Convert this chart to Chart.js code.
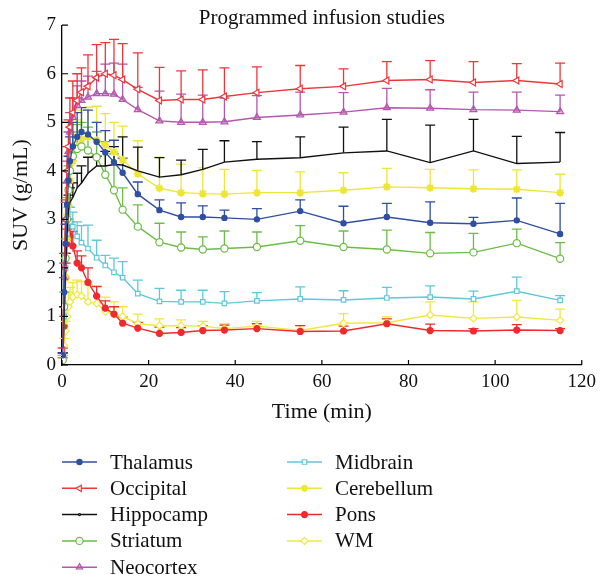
<!DOCTYPE html>
<html>
<head>
<meta charset="utf-8">
<script src="https://cdn.jsdelivr.net/npm/chart.js@4/dist/chart.umd.min.js"></script>
<style>html,body{margin:0;padding:0;background:#fff}</style>
</head>
<body>
<canvas id="myChart" width="602" height="579"></canvas>
<script>
// frame mid times (min)
let times = [0.17, 0.5, 0.83, 1.17, 1.5, 1.83, 2.5, 3.5, 4.5, 6, 8, 10, 12, 14, 17.5, 22.5, 27.5, 32.5, 37.5, 45, 55, 65, 75, 85, 95, 105, 115];

let thalamus = [0.2, 1.5, 2.5, 3.3, 3.8, 4.2, 4.5, 4.7, 4.8, 4.75, 4.6, 4.38, 4.18, 3.96, 3.52, 3.19, 3.05, 3.05, 3.03, 3.0, 3.17, 2.92, 3.05, 2.93, 2.91, 2.98, 2.70];
let thalamusSd = [0.05, 0.3, 0.4, 0.45, 0.5, 0.5, 0.5, 0.5, 0.5, 0.5, 0.4, 0.45, 0.45, 0.3, 0.25, 0.21, 0.29, 0.23, 0.16, 0.22, 0.23, 0.35, 0.28, 0.43, 0.13, 0.46, 0.63];

let occipital = [0.3, 2.0, 3.0, 4.0, 4.5, 4.9, 5.2, 5.45, 5.62, 5.74, 5.92, 6.0, 5.97, 5.88, 5.68, 5.45, 5.47, 5.47, 5.53, 5.61, 5.69, 5.74, 5.86, 5.88, 5.82, 5.86, 5.79];
let occipitalSd = [0.05, 0.3, 0.4, 0.5, 0.55, 0.6, 0.65, 0.55, 0.5, 0.65, 0.68, 0.64, 0.74, 0.74, 0.75, 0.68, 0.59, 0.61, 0.59, 0.53, 0.48, 0.36, 0.39, 0.39, 0.43, 0.35, 0.43];

let hippocamp = [0.2, 1.0, 2.0, 2.7, 3.2, 3.35, 3.45, 3.65, 3.75, 3.95, 4.1, 4.1, 4.13, 4.12, 4.0, 3.87, 3.92, 4.03, 4.18, 4.24, 4.27, 4.37, 4.41, 4.17, 4.41, 4.15, 4.18];
let hippocampSd = [0.05, 0.2, 0.3, 0.3, 0.3, 0.3, 0.3, 0.3, 0.35, 0.33, 0.2, 0.3, 0.37, 0.58, 0.49, 0.4, 0.3, 0.41, 0.44, 0.36, 0.43, 0.53, 0.65, 0.77, 0.65, 0.56, 0.61];

let striatum = [0.1, 1.2, 2.2, 3.0, 3.6, 4.0, 4.3, 4.45, 4.5, 4.42, 4.28, 3.92, 3.6, 3.2, 2.85, 2.53, 2.42, 2.38, 2.40, 2.43, 2.56, 2.43, 2.38, 2.30, 2.32, 2.51, 2.19];
let striatumSd = [0.05, 0.3, 0.4, 0.45, 0.5, 0.5, 0.5, 0.5, 0.5, 0.48, 0.52, 0.68, 0.75, 0.45, 0.45, 0.39, 0.32, 0.26, 0.36, 0.31, 0.31, 0.33, 0.4, 0.43, 0.39, 0.29, 0.33];

let neocortex = [0.2, 1.8, 3.0, 3.8, 4.4, 4.8, 5.1, 5.35, 5.45, 5.52, 5.59, 5.59, 5.58, 5.47, 5.26, 5.03, 5.0, 5.0, 5.01, 5.10, 5.15, 5.21, 5.30, 5.29, 5.26, 5.25, 5.22];
let neocortexSd = [0.05, 0.3, 0.35, 0.4, 0.4, 0.4, 0.4, 0.4, 0.4, 0.43, 0.46, 0.61, 0.64, 0.73, 0.46, 0.61, 0.58, 0.56, 0.49, 0.45, 0.47, 0.40, 0.40, 0.38, 0.36, 0.37, 0.34];

let midbrain = [0.15, 1.0, 2.0, 2.7, 2.95, 2.95, 2.85, 2.65, 2.52, 2.40, 2.21, 2.05, 1.91, 1.80, 1.47, 1.31, 1.30, 1.30, 1.27, 1.32, 1.36, 1.34, 1.38, 1.40, 1.36, 1.52, 1.33];
let midbrainSd = [0.05, 0.2, 0.3, 0.3, 0.3, 0.3, 0.3, 0.3, 0.35, 0.48, 0.36, 0.21, 0.29, 0.33, 0.28, 0.27, 0.24, 0.24, 0.24, 0.17, 0.25, 0.19, 0.22, 0.23, 0.16, 0.29, 0.10];

let cerebellum = [0.2, 0.9, 1.8, 2.6, 3.3, 3.8, 4.2, 4.5, 4.65, 4.70, 4.63, 4.53, 4.39, 4.23, 3.94, 3.64, 3.55, 3.53, 3.52, 3.55, 3.55, 3.60, 3.67, 3.65, 3.63, 3.62, 3.55];
let cerebellumSd = [0.05, 0.3, 0.4, 0.5, 0.5, 0.5, 0.55, 0.55, 0.6, 0.61, 0.70, 0.65, 0.61, 0.69, 0.68, 0.64, 0.59, 0.53, 0.51, 0.46, 0.43, 0.36, 0.38, 0.38, 0.39, 0.40, 0.38];

let pons = [0.1, 0.8, 1.8, 2.5, 2.7, 2.65, 2.45, 2.1, 2.0, 1.70, 1.42, 1.17, 1.05, 0.86, 0.76, 0.65, 0.67, 0.71, 0.72, 0.75, 0.69, 0.70, 0.85, 0.71, 0.70, 0.72, 0.71];
let ponsSd = [0.05, 0.2, 0.3, 0.3, 0.3, 0.3, 0.3, 0.25, 0.25, 0.3, 0.2, 0.15, 0.15, 0.13, 0.12, 0.13, 0.1, 0.1, 0.1, 0.1, 0.12, 0.1, 0.1, 0.13, 0.05, 0.11, 0.04];

let wm = [0.15, 0.4, 0.7, 1.0, 1.2, 1.3, 1.4, 1.45, 1.42, 1.30, 1.27, 1.1, 1.05, 1.0, 0.85, 0.81, 0.81, 0.80, 0.75, 0.80, 0.71, 0.86, 0.87, 1.03, 0.96, 0.99, 0.92];
let wmSd = [0.05, 0.15, 0.2, 0.25, 0.3, 0.3, 0.3, 0.3, 0.3, 0.35, 0.33, 0.3, 0.25, 0.2, 0.2, 0.14, 0.12, 0.1, 0.1, 0.1, 0.1, 0.2, 0.12, 0.27, 0.34, 0.34, 0.23];

let xTicks = [0, 20, 40, 60, 80, 100, 120];
let yTicks = [0, 1, 2, 3, 4, 5, 6, 7];

const serif = '"Liberation Serif", "DejaVu Serif", serif';

function series(label, values, sd, color, style) {
  return Object.assign({
    label: label,
    data: values.map((v, i) => ({ x: times[i], y: v })),
    sd: sd,
    borderColor: color,
    backgroundColor: color,
    borderWidth: 1.4,
    pointBorderColor: color,
    pointBackgroundColor: '#fff',
    pointBorderWidth: 1.2,
    pointRadius: 3.2,
    pointHoverRadius: 3.2,
    tension: 0,
    fill: false
  }, style);
}

let datasets = [
  series('Thalamus', thalamus, thalamusSd, '#2f4fa2', { pointStyle: 'circle', pointRadius: 2.6, pointBackgroundColor: '#2f4fa2' }),
  series('Occipital', occipital, occipitalSd, '#f0353b', { pointStyle: 'triangle', pointRotation: -90, pointRadius: 4 }),
  series('Hippocamp', hippocamp, hippocampSd, '#111111', { pointRadius: 0, pointStyle: 'circle' }),
  series('Striatum', striatum, striatumSd, '#6cbd46', { pointStyle: 'circle', pointRadius: 3.6 }),
  series('Neocortex', neocortex, neocortexSd, '#b457ad', { pointStyle: 'triangle', pointRadius: 4, pointBackgroundColor: 'rgba(180,87,173,0.35)' }),
  series('Midbrain', midbrain, midbrainSd, '#5fc8d9', { pointStyle: 'rect', pointRadius: 3.2 }),
  series('Cerebellum', cerebellum, cerebellumSd, '#eee637', { pointStyle: 'star', pointRadius: 4, pointBorderWidth: 2 }),
  series('Pons', pons, ponsSd, '#ef2a2e', { pointStyle: 'star', pointRadius: 3.6, pointBorderWidth: 2.4, pointBackgroundColor: '#ef2a2e' }),
  series('WM', wm, wmSd, '#f1e83c', { pointStyle: 'rectRot', pointRadius: 3.6 })
];

// upper error bars with caps
const errorBars = {
  id: 'errorBars',
  beforeDatasetsDraw(chart) {
    const { ctx, scales: { x, y } } = chart;
    for (let i = datasets.length - 1; i >= 0; i--) {
      const ds = chart.data.datasets[i];
      ctx.save();
      ctx.strokeStyle = ds.borderColor;
      ctx.lineWidth = 1.3;
      ds.data.forEach((p, j) => {
        const px = x.getPixelForValue(p.x);
        const py = y.getPixelForValue(p.y);
        const pt = y.getPixelForValue(p.y + ds.sd[j]);
        ctx.beginPath();
        ctx.moveTo(px, py);
        ctx.lineTo(px, pt);
        ctx.moveTo(px - 5, pt);
        ctx.lineTo(px + 5, pt);
        ctx.stroke();
      });
      ctx.restore();
    }
  }
};

// ticks pointing into the plot
const innerTicks = {
  id: 'innerTicks',
  afterDraw(chart) {
    const { ctx, scales: { x, y }, chartArea } = chart;
    ctx.save();
    ctx.strokeStyle = '#000';
    ctx.lineWidth = 1.2;
    ctx.beginPath();
    xTicks.forEach(t => {
      const px = x.getPixelForValue(t);
      ctx.moveTo(px, chartArea.bottom);
      ctx.lineTo(px, chartArea.bottom - 5);
    });
    yTicks.forEach(t => {
      const py = y.getPixelForValue(t);
      ctx.moveTo(chartArea.left, py);
      ctx.lineTo(chartArea.left + 6, py);
    });
    ctx.stroke();
    ctx.restore();
  }
};

// two-column legend under the axes
const columnLegend = {
  id: 'columnLegend',
  afterDraw(chart) {
    const ctx = chart.ctx;
    const drawPoint = Chart.helpers && Chart.helpers.drawPoint;
    chart.data.datasets.forEach((ds, i) => {
      const col = i < 5 ? 0 : 1;
      const row = i % 5;
      const x0 = col === 0 ? 62 : 287;
      const yy = 462 + row * 26.3;
      ctx.save();
      ctx.strokeStyle = ds.borderColor;
      ctx.lineWidth = 1.5;
      ctx.beginPath();
      ctx.moveTo(x0, yy);
      ctx.lineTo(x0 + 35, yy);
      ctx.stroke();
      if (drawPoint) {
        ctx.strokeStyle = ds.pointBorderColor;
        ctx.fillStyle = ds.pointBackgroundColor;
        ctx.lineWidth = ds.pointBorderWidth;
        drawPoint(ctx, {
          pointStyle: ds.pointStyle,
          radius: ds.pointRadius === 0 ? 1 : Math.min(ds.pointRadius, 3.6),
          rotation: ds.pointRotation || 0,
          borderWidth: ds.pointBorderWidth
        }, x0 + 17.5, yy);
      }
      ctx.fillStyle = '#111';
      ctx.font = '21px ' + serif;
      ctx.textBaseline = 'middle';
      ctx.fillText(ds.label, x0 + 48, yy + 1);
      ctx.restore();
    });
  }
};

let ctx = document.getElementById('myChart').getContext('2d');
let myChart = new Chart(ctx, {
  type: 'line',
  data: { datasets: datasets },
  plugins: [errorBars, innerTicks, columnLegend],
  options: {
    responsive: false,
    animation: false,
    layout: { padding: { left: 0, right: 14, top: 0, bottom: 154 } },
    plugins: {
      legend: { display: false },
      tooltip: { enabled: false },
      title: {
        display: true,
        fullSize: false,
        text: 'Programmed infusion studies',
        color: '#111',
        font: { family: serif, size: 21, weight: 'normal', lineHeight: 1.2 },
        padding: { top: 6, bottom: -6 }
      }
    },
    scales: {
      x: {
        type: 'linear',
        min: 0,
        max: 120,
        afterBuildTicks: (s) => { s.ticks = xTicks.map(v => ({ value: v })); },
        afterFit: (s) => { s.height = 60; },
        grid: { display: false, drawTicks: false },
        border: { display: true, color: '#000', width: 1.3 },
        ticks: { color: '#111', padding: 6, font: { family: serif, size: 19 } },
        title: { display: true, text: 'Time (min)', color: '#111', padding: { top: 0, bottom: 0 }, font: { family: serif, size: 22 } }
      },
      y: {
        min: 0,
        max: 7,
        afterBuildTicks: (s) => { s.ticks = yTicks.map(v => ({ value: v })); },
        afterFit: (s) => { s.width = 62; },
        grid: { display: false, drawTicks: false },
        border: { display: true, color: '#000', width: 1.3 },
        ticks: { color: '#111', padding: 6, font: { family: serif, size: 19 } },
        title: { display: true, text: 'SUV (g/mL)', color: '#111', padding: { top: 8, bottom: 0 }, font: { family: serif, size: 22 } }
      }
    }
  }
});
</script>
</body>
</html>
